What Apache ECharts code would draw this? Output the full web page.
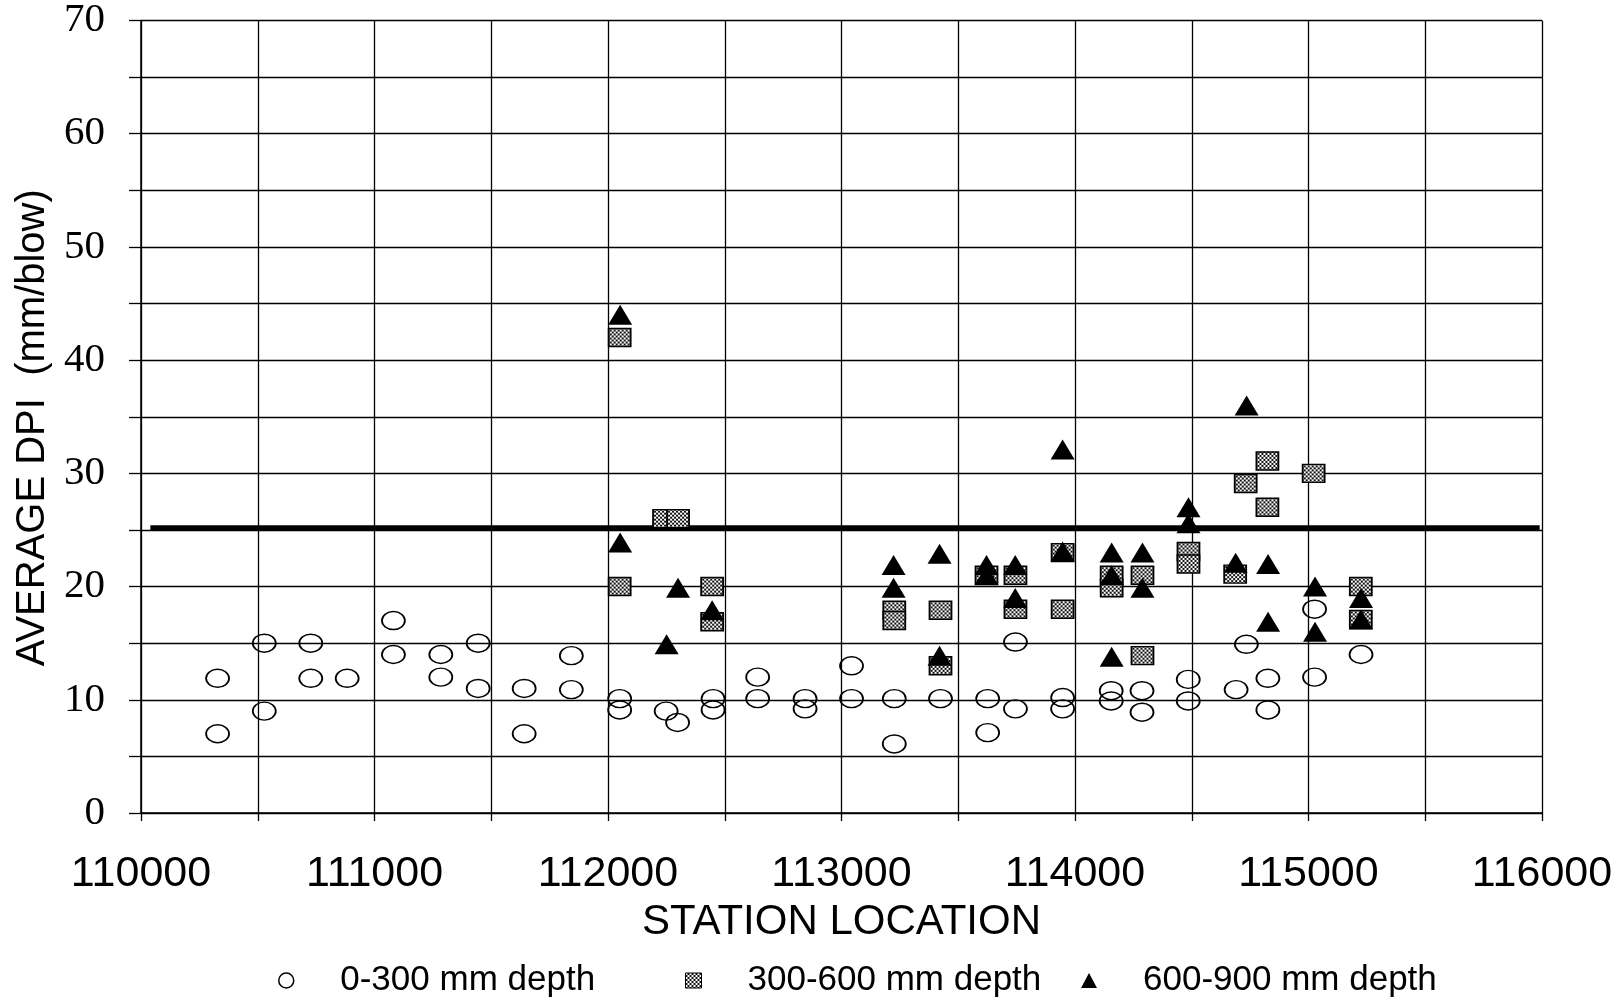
<!DOCTYPE html>
<html><head><meta charset="utf-8">
<script src="https://cdn.jsdelivr.net/npm/echarts@6/dist/echarts.min.js"></script>
<style>html,body{margin:0;padding:0;background:#fff}#c{width:1622px;height:1000px}</style>
</head><body><div id="c"></div>
<script>
// ---- data ----
const xTickLabels = [110000, 111000, 112000, 113000, 114000, 115000, 116000];
const yTickLabels = [0, 10, 20, 30, 40, 50, 60, 70];
const seriesNames = ['0-300 mm depth', '300-600 mm depth', '600-900 mm depth'];

// [station, average DPI]
const shallowDepth = [
  [110328, 11.9], [110328, 7.0], [110528, 15.0], [110528, 9.0], [110727, 15.0], [110727, 11.9],
  [110883, 11.9], [111081, 17.0], [111081, 14.0], [111284, 14.0], [111284, 12.0], [111444, 15.0],
  [111444, 11.0], [111641, 11.0], [111641, 7.0], [111843, 13.9], [111843, 10.9], [112050, 10.1],
  [112050, 9.1], [112249, 9.0], [112298, 8.0], [112450, 10.1], [112450, 9.1], [112641, 12.0],
  [112641, 10.1], [112844, 10.1], [112844, 9.2], [113043, 13.0], [113043, 10.1], [113226, 10.1],
  [113226, 6.1], [113424, 10.1], [113626, 10.1], [113626, 7.1], [113745, 15.1], [113745, 9.2],
  [113947, 10.2], [113947, 9.2], [114155, 10.8], [114155, 9.9], [114287, 10.8], [114287, 8.9],
  [114485, 11.8], [114485, 9.9], [114690, 10.9], [114734, 14.9], [114826, 11.9], [114826, 9.1],
  [115026, 18.0], [115026, 12.0], [115225, 14.0]
];
const middleDepth = [
  [112050, 42.0], [112050, 20.0], [112240, 26.0], [112300, 26.0], [112446, 20.0], [112446, 16.9],
  [113226, 17.9], [113226, 17.0], [113424, 17.9], [113424, 13.0], [113621, 21.0], [113745, 21.0],
  [113745, 18.0], [113947, 23.0], [113947, 18.0], [114157, 19.9], [114157, 21.0], [114289, 21.0],
  [114289, 13.9], [114486, 23.1], [114486, 22.0], [114686, 21.1], [114731, 29.1], [114824, 31.1],
  [114824, 27.0], [115022, 30.0], [115224, 20.0], [115224, 17.1]
];
const deepDepth = [
  [112052, 44.0], [112052, 23.9], [112251, 14.9], [112300, 19.9], [112446, 17.9], [113223, 21.9],
  [113223, 19.9], [113420, 22.9], [113420, 13.9], [113621, 21.9], [113621, 21.0], [113744, 21.9],
  [113744, 19.0], [113947, 32.1], [113947, 23.1], [114157, 23.0], [114157, 21.0], [114157, 13.8],
  [114289, 23.0], [114289, 19.9], [114486, 27.0], [114486, 25.6], [114688, 22.1], [114735, 36.0],
  [114827, 22.0], [114827, 16.9], [115028, 20.0], [115028, 16.0], [115225, 19.0], [115225, 17.1]
];
const limitLine = [[110040, 25.2], [115990, 25.2]];

// ---- sizes / styles ----
const circleSize = [23, 18];
const squareSize = [22, 18];
const triangleSize = [24, 20];

// ---- pattern for the hatched squares ----
const pc = document.createElement('canvas');
pc.width = 4; pc.height = 4;
const g = pc.getContext('2d');
g.fillStyle = '#111'; g.fillRect(0, 0, 4, 4);
g.fillStyle = '#fff'; g.fillRect(0, 0, 2, 2); g.fillRect(2, 2, 2, 2);
// scatter symbols are unit (2x2) paths scaled to symbolSize: undo that scale for the pattern
const hatch = { image: pc, repeat: 'repeat', scaleX: 2 / squareSize[0], scaleY: 2 / squareSize[1] };
const hatchLegend = { image: pc, repeat: 'repeat' };

const chart = echarts.init(document.getElementById('c'), null, { renderer: 'canvas' });
const sans = '"Liberation Sans", Arial, sans-serif';
const serif = '"Liberation Serif", "Times New Roman", serif';

const legendText = { fontFamily: sans, fontSize: 35, color: '#000', padding: [0, 0, 0, 41] };
function makeLegend(left, item) {
  return { left: left, top: 958, itemWidth: 16, itemHeight: 15, textStyle: legendText, data: [item] };
}

chart.setOption({
  animation: false,
  backgroundColor: '#fff',
  grid: { left: 141, right: 80, top: 17, bottom: 187, containLabel: false },
  xAxis: {
    type: 'value', min: 110000, max: 116000, interval: 500,
    name: 'STATION LOCATION', nameLocation: 'middle', nameGap: 88,
    nameTextStyle: { fontFamily: sans, fontSize: 42, color: '#000' },
    axisLine: { show: true, lineStyle: { color: '#000', width: 1.5 } },
    axisTick: { show: true, length: 8, lineStyle: { color: '#000', width: 1.3 } },
    axisLabel: {
      fontFamily: sans, fontSize: 43, color: '#000', margin: 40,
      formatter: v => xTickLabels.includes(v) ? String(v) : ''
    },
    splitLine: { show: true, lineStyle: { color: '#000', width: 1.3 } }
  },
  yAxis: {
    type: 'value', min: 0, max: 70, interval: 5,
    name: 'AVERAGE DPI  (mm/blow)', nameLocation: 'middle', nameGap: 88, nameRotate: 90,
    nameTextStyle: { fontFamily: sans, fontSize: 40, color: '#000', padding: [0, 22, 0, 0] },
    axisLine: { show: true, lineStyle: { color: '#000', width: 1.5 } },
    axisTick: { show: true, length: 12, lineStyle: { color: '#000', width: 1.3 } },
    axisLabel: {
      fontFamily: serif, fontSize: 41, color: '#000', margin: 36,
      formatter: v => yTickLabels.includes(v) ? String(v) : ''
    },
    splitLine: { show: true, lineStyle: { color: '#000', width: 1.3 } }
  },
  legend: [
    makeLegend(273, { name: seriesNames[0], icon: 'circle', itemStyle: { color: '#fff', borderColor: '#000', borderWidth: 1.5 } }),
    makeLegend(680, { name: seriesNames[1], icon: 'rect', itemStyle: { color: hatchLegend, borderColor: '#000', borderWidth: 1 } }),
    makeLegend(1076, { name: seriesNames[2], icon: 'triangle' })
  ],
  series: [
    {
      type: 'line', data: limitLine, symbol: 'none', silent: true,
      lineStyle: { color: '#000', width: 5 }, z: 3
    },
    {
      name: seriesNames[0], type: 'scatter', data: shallowDepth,
      symbol: 'circle', symbolSize: circleSize,
      itemStyle: { color: 'rgba(0,0,0,0)', borderColor: '#000', borderWidth: 1.6, opacity: 1 }, z: 4
    },
    {
      name: seriesNames[1], type: 'scatter', data: middleDepth,
      symbol: 'rect', symbolSize: squareSize,
      itemStyle: { color: hatch, borderColor: '#000', borderWidth: 1.6, opacity: 1 }, z: 5
    },
    {
      name: seriesNames[2], type: 'scatter', data: deepDepth,
      symbol: 'triangle', symbolSize: triangleSize,
      itemStyle: { color: '#000', opacity: 1 }, z: 6
    }
  ]
});
</script></body></html>
